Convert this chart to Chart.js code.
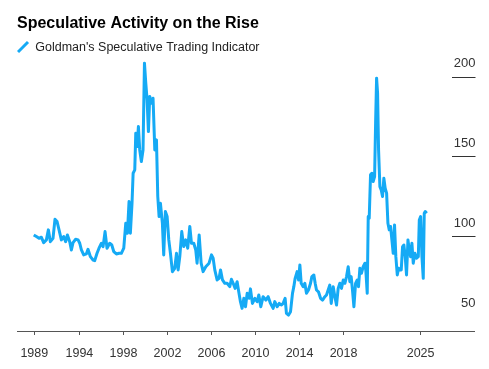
<!DOCTYPE html>
<html><head><meta charset="utf-8">
<script src="https://cdn.jsdelivr.net/npm/chart.js@4/dist/chart.umd.min.js"></script>
<style>html,body{margin:0;padding:0;background:#fff}#wrap{width:489px;height:369px}</style>
</head><body><div id="wrap"><canvas id="c" width="489" height="369"></canvas></div>
<script>
const chartTitle = 'Speculative Activity on the Rise';
const seriesName = "Goldman's Speculative Trading Indicator";

const dates = [
1989.85,1990.09,1990.33,1990.54,1990.75,1991.00,1991.18,1991.36,1991.60,1991.78,1991.97,
1992.15,1992.36,1992.57,1992.75,1992.91,1993.12,1993.27,1993.42,1993.66,1993.88,
1994.03,1994.18,1994.39,1994.63,1994.78,1995.00,1995.24,1995.39,1995.60,1995.78,
1996.00,1996.15,1996.33,1996.51,1996.75,1996.94,1997.12,1997.36,1997.60,1997.81,
1998.03,1998.21,1998.36,1998.51,1998.63,1998.78,1998.88,1999.03,1999.12,1999.24,
1999.36,1999.48,1999.63,1999.78,1999.91,2000.03,2000.15,2000.27,2000.39,2000.54,
2000.69,2000.85,2001.00,2001.12,2001.24,2001.36,2001.54,2001.66,2001.81,2001.97,
2002.12,2002.27,2002.45,2002.66,2002.82,2002.97,2003.12,2003.30,2003.48,2003.66,
2003.84,2004.03,2004.18,2004.39,2004.57,2004.69,2004.88,2005.06,2005.24,2005.48,
2005.78,2006.00,2006.15,2006.30,2006.51,2006.69,2006.82,2007.00,2007.21,2007.42,
2007.66,2007.81,2007.97,2008.15,2008.33,2008.45,2008.63,2008.78,2008.94,2009.09,
2009.24,2009.42,2009.54,2009.72,2009.94,2010.15,2010.30,2010.48,2010.69,2010.94,
2011.15,2011.36,2011.60,2011.75,2011.97,2012.15,2012.36,2012.51,2012.69,2012.81,
2013.00,2013.18,2013.36,2013.48,2013.60,2013.78,2013.91,2014.03,2014.15,2014.33,
2014.48,2014.63,2014.81,2015.00,2015.12,2015.30,2015.42,2015.54,2015.72,2015.91,
2016.09,2016.30,2016.45,2016.60,2016.75,2016.88,2017.06,2017.21,2017.36,2017.51,
2017.66,2017.81,2017.97,2018.12,2018.27,2018.42,2018.57,2018.69,2018.81,2018.94,
2019.09,2019.24,2019.36,2019.48,2019.63,2019.78,2019.94,2020.03,2020.15,2020.24,
2020.33,2020.45,2020.57,2020.69,2020.82,2020.91,2021.00,2021.09,2021.18,2021.30,
2021.42,2021.54,2021.66,2021.78,2021.91,2022.03,2022.15,2022.27,2022.39,2022.51,
2022.63,2022.75,2022.88,2023.00,2023.12,2023.24,2023.36,2023.48,2023.60,2023.72,
2023.85,2023.97,2024.09,2024.21,2024.33,2024.48,2024.63,2024.79,2024.88,2025.00,
2025.12,2025.24,2025.33,2025.42,2025.55
];
const values = [
100.8,99.8,98.7,99.4,96.0,97.7,104.0,96.6,98.7,110.6,109.2,
104.0,97.7,99.8,96.6,100.8,96.6,91.4,96.0,98.1,97.7,
95.6,91.4,88.3,88.9,91.8,87.2,85.1,84.7,89.3,92.5,
95.6,93.5,102.9,92.5,95.6,94.5,90.4,88.9,89.3,89.3,
92.5,108.1,101.9,121.7,101.9,120.7,139.5,141.6,164.6,156.2,
168.8,154.1,146.8,154.1,208.5,196.0,185.5,165.6,187.6,183.4,
186.5,154.1,160.4,124.9,112.3,120.7,108.1,88.3,115.5,112.3,
97.7,89.3,77.8,79.9,89.3,78.9,87.2,102.9,93.5,97.7,
92.5,106.1,95.6,95.6,91.4,83.1,100.8,83.1,77.8,80.9,
83.1,88.3,86.2,78.9,72.6,73.6,78.9,72.6,70.5,70.5,
68.4,73.0,70.5,67.3,71.5,66.3,59.0,54.8,61.1,55.8,
64.2,61.1,67.0,57.9,61.1,59.0,63.2,55.8,62.1,60.0,
62.1,57.9,54.8,59.0,55.8,57.9,56.9,57.9,61.1,51.7,
50.6,52.7,64.2,68.4,73.6,77.8,72.6,82.0,70.5,68.4,
70.5,64.2,66.3,70.5,74.7,75.7,70.5,66.3,65.2,61.1,
60.0,62.1,63.2,66.3,69.4,57.9,68.4,62.1,56.9,67.3,
70.5,67.3,72.6,70.5,74.7,80.9,71.5,74.7,66.3,55.8,
70.5,72.6,68.4,79.9,76.8,80.9,83.1,77.8,64.2,112.3,
111.3,138.5,139.5,134.3,137.4,170.8,199.1,189.7,154.1,131.1,
129.0,124.9,136.4,130.1,127.0,108.1,104.0,106.1,97.7,89.3,
107.1,87.2,75.7,79.9,78.9,78.9,93.5,94.5,87.2,75.7,
97.7,91.4,87.2,95.6,83.1,89.3,86.2,87.2,110.2,112.3,
87.2,73.6,114.4,115.5,114.4
];

const xTickPositions = [1989.9, 1994, 1998, 2002, 2006, 2010, 2014, 2018, 2025];
const xTickLabels = ['1989','1994','1998','2002','2006','2010','2014','2018','2025'];
const yTickValues = [50, 100, 150, 200];
const yMarkValues = [100, 150, 200];

const FONT = "'Liberation Sans', Arial, Helvetica, sans-serif";
const LINE = '#15aaf5';

const yMarks = {
  id: 'yMarks',
  afterDraw(chart) {
    const {ctx, chartArea, scales} = chart;
    const y = scales.y;
    ctx.save();
    ctx.strokeStyle = '#333';
    ctx.lineWidth = 1;
    yMarkValues.forEach(v => {
      const py = Math.round(y.getPixelForValue(v)) + 0.5;
      ctx.beginPath();
      ctx.moveTo(chartArea.right - 22, py);
      ctx.lineTo(chartArea.right + 1.5, py);
      ctx.stroke();
    });
    ctx.restore();
  }
};

new Chart(document.getElementById('c'), {
  type: 'line',
  data: {
    datasets: [{
      label: seriesName,
      data: dates.map((d, i) => ({x: d, y: values[i]})),
      borderColor: LINE,
      backgroundColor: LINE,
      borderWidth: 3,
      pointRadius: 0,
      pointHoverRadius: 0,
      pointStyle: 'line',
      pointRotation: -45,
      pointBorderWidth: 3,
      pointBorderColor: LINE,
      tension: 0,
      borderJoinStyle: 'round',
      clip: false
    }]
  },
  options: {
    responsive: false,
    animation: false,
    devicePixelRatio: 1,
    layout: {padding: {left: 17, right: 15, top: 0, bottom: 0}},
    plugins: {
      title: {
        display: true, text: chartTitle, align: 'start', color: '#000',
        font: {family: FONT, size: 16, weight: 'bold'},
        padding: {top: 14, bottom: 7.6}
      },
      legend: {
        display: true, align: 'start',
        labels: {
          usePointStyle: true, pointStyle: 'line', boxWidth: 12, boxHeight: 10,
          padding: 0, color: '#222', font: {family: FONT, size: 12.5}
        }
      },
      tooltip: {enabled: false}
    },
    scales: {
      x: {
        type: 'linear', min: 1988.33, max: 2029.85,
        afterBuildTicks: s => { s.ticks = xTickPositions.map(v => ({value: v})); },
        afterFit: s => { s.height = 38; },
        ticks: {
          autoSkip: false, maxRotation: 0, padding: 11, color: '#333',
          font: {family: FONT, size: 12.5},
          callback: (v, i) => xTickLabels[i]
        },
        grid: {drawOnChartArea: false, drawTicks: true, tickLength: 4, color: '#555'},
        border: {color: '#555', width: 1}
      },
      y: {
        position: 'right', min: 40.6, max: 208.4,
        afterBuildTicks: s => { s.ticks = yTickValues.map(v => ({value: v})); },
        afterFit: s => { s.width = 0; },
        ticks: {
          mirror: true, padding: 1.5, labelOffset: -13, color: '#333',
          font: {family: FONT, size: 13}
        },
        grid: {display: false},
        border: {display: false}
      }
    }
  },
  plugins: [yMarks]
});
</script>
</body></html>
